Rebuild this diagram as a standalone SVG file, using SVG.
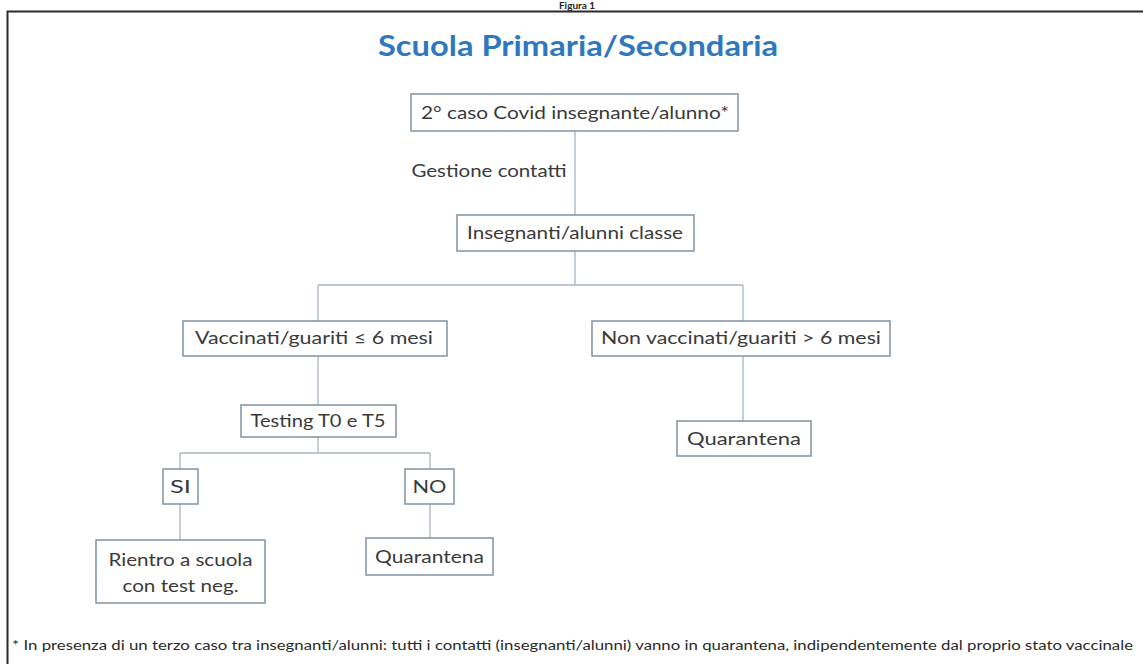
<svg xmlns="http://www.w3.org/2000/svg" width="1143" height="664" viewBox="0 0 1143 664">
  <style>
    .box { fill: #ffffff; stroke: #7f93a6; stroke-width: 1.5; }
    .lbl { font-family: Lato, "Open Sans", "Liberation Sans", sans-serif; font-size: 18px; fill: #3a3a3a; text-anchor: middle; }
    .conn { stroke: #a7b5c3; stroke-width: 1.3; fill: none; }
  </style>
  <rect x="0" y="0" width="1143" height="664" fill="#ffffff"/>
  <text x="577" y="9" font-family="Lato, 'Liberation Sans', sans-serif" font-size="10" font-weight="bold" fill="#222" text-anchor="middle">Figura 1</text>
  <rect id="frame" x="7.5" y="11.5" width="1150" height="670" fill="#ffffff" stroke="#2b2b2b" stroke-width="2"/>
  <text id="title" x="578" y="56" font-family="Lato, 'Open Sans', 'Liberation Sans', sans-serif" font-size="28" font-weight="bold" fill="#2e78bd" text-anchor="middle" textLength="400" lengthAdjust="spacingAndGlyphs">Scuola Primaria/Secondaria</text>

  <g id="connectors">
    <line class="conn" x1="575" y1="131" x2="575" y2="215"/>
    <line class="conn" x1="575" y1="251" x2="575" y2="285"/>
    <line class="conn" x1="318" y1="285" x2="743" y2="285"/>
    <line class="conn" x1="318" y1="285" x2="318" y2="321"/>
    <line class="conn" x1="743" y1="285" x2="743" y2="321"/>
    <line class="conn" x1="318" y1="356" x2="318" y2="405"/>
    <line class="conn" x1="743" y1="356" x2="743" y2="421"/>
    <line class="conn" x1="318" y1="437" x2="318" y2="453"/>
    <line class="conn" x1="180" y1="453" x2="430" y2="453"/>
    <line class="conn" x1="180" y1="453" x2="180" y2="469"/>
    <line class="conn" x1="430" y1="453" x2="430" y2="469"/>
    <line class="conn" x1="180" y1="504" x2="180" y2="540"/>
    <line class="conn" x1="430" y1="504" x2="430" y2="538"/>
  </g>

  <text id="edge-label" class="lbl" x="489" y="177" textLength="155" lengthAdjust="spacingAndGlyphs">Gestione contatti</text>

  <g id="n-caso">
    <rect class="box" x="411" y="94" width="327" height="37"/>
    <text class="lbl" x="575" y="119" textLength="308" lengthAdjust="spacingAndGlyphs">2° caso Covid insegnante/alunno*</text>
  </g>
  <g id="n-classe">
    <rect class="box" x="457" y="215" width="237" height="36"/>
    <text class="lbl" x="575" y="239" textLength="216" lengthAdjust="spacingAndGlyphs">Insegnanti/alunni classe</text>
  </g>
  <g id="n-vacc">
    <rect class="box" x="183" y="321" width="264" height="35"/>
    <text class="lbl" x="314" y="344" textLength="238" lengthAdjust="spacingAndGlyphs">Vaccinati/guariti ≤ 6 mesi</text>
  </g>
  <g id="n-nonvacc">
    <rect class="box" x="592" y="321" width="298" height="35"/>
    <text class="lbl" x="741" y="344" textLength="280" lengthAdjust="spacingAndGlyphs">Non vaccinati/guariti &gt; 6 mesi</text>
  </g>
  <g id="n-testing">
    <rect class="box" x="241" y="405" width="155" height="32"/>
    <text class="lbl" x="318" y="427" textLength="135" lengthAdjust="spacingAndGlyphs">Testing T0 e T5</text>
  </g>
  <g id="n-quar1">
    <rect class="box" x="677" y="421" width="134" height="35"/>
    <text class="lbl" x="744" y="445" textLength="114" lengthAdjust="spacingAndGlyphs">Quarantena</text>
  </g>
  <g id="n-si">
    <rect class="box" x="163" y="469" width="35" height="35"/>
    <text class="lbl" x="180.5" y="493" textLength="21" lengthAdjust="spacingAndGlyphs">SI</text>
  </g>
  <g id="n-no">
    <rect class="box" x="405" y="469" width="49" height="35"/>
    <text class="lbl" x="429.5" y="493" textLength="34" lengthAdjust="spacingAndGlyphs">NO</text>
  </g>
  <g id="n-rientro">
    <rect class="box" x="96" y="540" width="169" height="63"/>
    <text class="lbl" x="180.5" y="566" textLength="144" lengthAdjust="spacingAndGlyphs">Rientro a scuola</text>
    <text class="lbl" x="180.5" y="592" textLength="116" lengthAdjust="spacingAndGlyphs">con test neg.</text>
  </g>
  <g id="n-quar2">
    <rect class="box" x="366" y="538" width="127" height="37"/>
    <text class="lbl" x="429.5" y="563" textLength="109" lengthAdjust="spacingAndGlyphs">Quarantena</text>
  </g>

  <text id="footnote" x="12" y="650" font-family="Lato, 'Open Sans', 'Liberation Sans', sans-serif" font-size="13.5" fill="#2a2a2a" textLength="1121" lengthAdjust="spacingAndGlyphs">* In presenza di un terzo caso tra insegnanti/alunni: tutti i contatti (insegnanti/alunni) vanno in quarantena, indipendentemente dal proprio stato vaccinale</text>
</svg>
